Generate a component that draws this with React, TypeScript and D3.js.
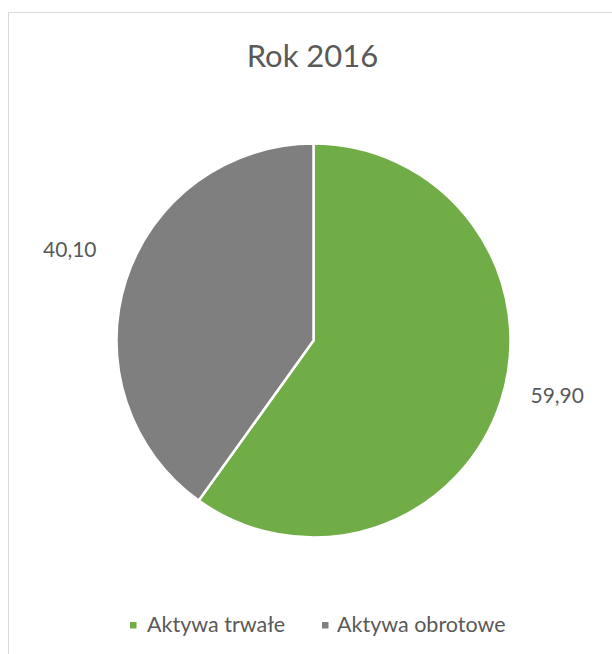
import React from "react";
import * as d3 from "d3";

const title = "Rok 2016";
const categories = ["Aktywa trwałe", "Aktywa obrotowe"];
const values = [59.9, 40.1];
const labels = ["59,90", "40,10"];
const colors = ["#70AD47", "#7F7F7F"];

const W = 612;
const H = 654;
const FONT = "Lato, 'Open Sans', sans-serif";
const TEXT = "#595959";

export default function App() {
  const cx = 313.5;
  const cy = 340.5;
  const r = 197;

  const pie = d3
    .pie<number>()
    .sort(null)
    .value((d) => d)
    .startAngle(0)
    .endAngle(2 * Math.PI);
  const arcs = pie(values);
  const arc = d3.arc<d3.PieArcDatum<number>>().innerRadius(0).outerRadius(r);

  const legendItems = [
    { x: 130, textX: 147 },
    { x: 322, textX: 337 },
  ];

  return (
    <svg
      width={W}
      height={H}
      style={{ position: "absolute", left: 0, top: 0, background: "#fff" }}
    >
      <rect x={8.5} y={12.5} width={700} height={700} fill="#fff" stroke="#d9d9d9" strokeWidth={1} />
      <text x={312.5} y={67} textAnchor="middle" fontFamily={FONT} fontSize={31} fill={TEXT}>
        {title}
      </text>
      <g transform={`translate(${cx},${cy})`}>
        {arcs.map((a, i) => (
          <path key={i} d={arc(a) || ""} fill={colors[i]} stroke="#fff" strokeWidth={2.5} strokeLinejoin="round" />
        ))}
        {arcs.map((a, i) => {
          const mid = (a.startAngle + a.endAngle) / 2;
          const x = 256 * Math.sin(mid);
          const y = -239 * Math.cos(mid) - 18;
          return (
            <text key={i} x={x} y={y + 7.5} textAnchor="middle" fontFamily={FONT} fontSize={21} fill={TEXT}>
              {labels[i]}
            </text>
          );
        })}
      </g>
      {categories.map((c, i) => (
        <g key={i}>
          <rect x={legendItems[i].x} y={622} width={6.5} height={6.5} fill={colors[i]} />
          <text x={legendItems[i].textX} y={632} fontFamily={FONT} fontSize={21.5} fill={TEXT}>
            {c}
          </text>
        </g>
      ))}
    </svg>
  );
}
